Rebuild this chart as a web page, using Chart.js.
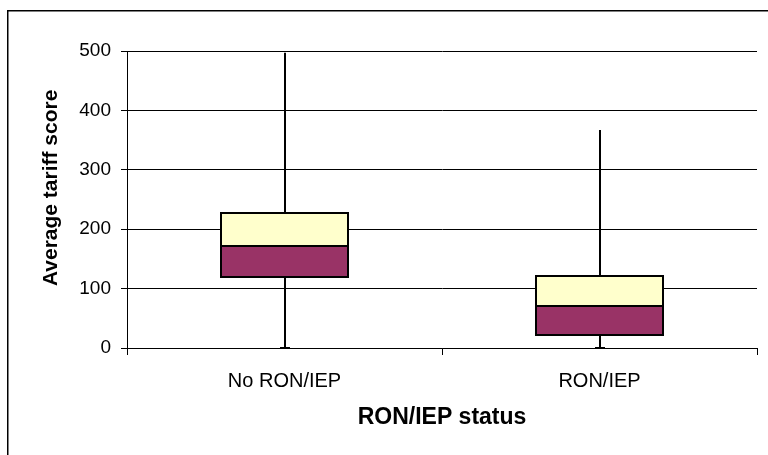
<!DOCTYPE html>
<html>
<head>
<meta charset="utf-8">
<script src="https://cdn.jsdelivr.net/npm/chart.js@4/dist/chart.umd.min.js"></script>
<style>
  html, body { margin: 0; padding: 0; background: #fff; }
  #wrap { width: 768px; height: 455px; position: relative; }
</style>
</head>
<body>
<div id="wrap"><canvas id="c" width="768" height="455"></canvas></div>
<script>
const categories = ['No RON/IEP', 'RON/IEP'];
const minValues = [0, 0];
const q1Values = [119, 22];
const medianValues = [172, 71];
const q3Values = [227, 121];
const maxValues = [497, 367];
const yTicks = [0, 100, 200, 300, 400, 500];

const FONT = '"Liberation Sans", Arial, sans-serif';

const lowerBox = categories.map((c, i) => [q1Values[i], medianValues[i]]);
const upperBox = categories.map((c, i) => [medianValues[i], q3Values[i]]);

const frame = {
  id: 'frame',
  beforeDraw(chart) {
    const ctx = chart.ctx;
    ctx.save();
    ctx.fillStyle = '#fff';
    ctx.fillRect(0, 0, chart.width, chart.height);
    ctx.strokeStyle = '#000';
    ctx.lineWidth = 1.5;
    ctx.strokeRect(7.75, 10.75, 900, 600);
    ctx.restore();
  }
};

const whiskers = {
  id: 'whiskers',
  beforeDatasetsDraw(chart) {
    const ctx = chart.ctx;
    const xs = chart.scales.x, ys = chart.scales.y;
    ctx.save();
    ctx.strokeStyle = '#000';
    ctx.lineWidth = 2;
    categories.forEach((c, i) => {
      const x = Math.round(xs.getPixelForValue(i));
      const yMin = ys.getPixelForValue(minValues[i]);
      const yMax = ys.getPixelForValue(maxValues[i]);
      ctx.beginPath();
      ctx.moveTo(x, yMin);
      ctx.lineTo(x, yMax);
      ctx.stroke();
      ctx.beginPath();
      ctx.moveTo(x - 5, yMin);
      ctx.lineTo(x + 5, yMin);
      ctx.stroke();
    });
    ctx.restore();
  },
  afterDatasetsDraw(chart) {
    const ctx = chart.ctx;
    ctx.save();
    ctx.strokeStyle = '#000';
    ctx.lineWidth = 2;
    chart.data.datasets.forEach((ds, di) => {
      const meta = chart.getDatasetMeta(di);
      meta.data.forEach(el => {
        const p = el.getProps(['x', 'y', 'base', 'width'], true);
        const left = Math.round(p.x - p.width / 2);
        const right = Math.round(p.x + p.width / 2);
        const top = Math.round(Math.min(p.y, p.base));
        const bottom = Math.round(Math.max(p.y, p.base));
        ctx.strokeRect(left, top, right - left, bottom - top);
      });
    });
    ctx.restore();
  }
};

new Chart(document.getElementById('c'), {
  type: 'bar',
  data: {
    labels: categories,
    datasets: [
      {
        label: 'Q1 to median',
        data: lowerBox,
        backgroundColor: '#993366',
        borderWidth: 0,
        grouped: false,
        categoryPercentage: 1,
        barPercentage: 0.405
      },
      {
        label: 'Median to Q3',
        data: upperBox,
        backgroundColor: '#FFFFCC',
        borderWidth: 0,
        grouped: false,
        categoryPercentage: 1,
        barPercentage: 0.405
      }
    ]
  },
  options: {
    responsive: false,
    animation: false,
    events: [],
    layout: { padding: { left: 0, right: 11, top: 51, bottom: 0 } },
    plugins: {
      legend: { display: false },
      tooltip: { enabled: false },
      title: { display: false }
    },
    scales: {
      x: {
        offset: true,
        grid: {
          offset: true,
          drawOnChartArea: false,
          drawTicks: true,
          tickLength: 7,
          color: '#000',
          lineWidth: 1
        },
        border: { display: true, color: '#000', width: 1 },
        ticks: {
          color: '#000',
          font: { family: FONT, size: 20 },
          padding: 14
        },
        title: {
          display: true,
          text: 'RON/IEP status',
          color: '#000',
          font: { family: FONT, size: 23, weight: 'bold' },
          padding: { top: 0, bottom: 24 }
        },
        afterFit(scale) { scale.height = 455 - 348; }
      },
      y: {
        min: 0,
        max: 500,
        afterBuildTicks(scale) { scale.ticks = yTicks.map(v => ({ value: v })); },
        grid: {
          color: '#000',
          lineWidth: 1,
          drawTicks: true,
          tickLength: 6
        },
        border: { display: true, color: '#000', width: 1 },
        ticks: {
          color: '#000',
          font: { family: FONT, size: 19 },
          padding: 10
        },
        title: {
          display: true,
          text: '    Average tariff score',
          color: '#000',
          font: { family: FONT, size: 21, weight: 'bold' },
          padding: { top: 39, bottom: 0 }
        },
        afterFit(scale) { scale.width = 127; }
      }
    }
  },
  plugins: [frame, whiskers]
});
</script>
</body>
</html>
